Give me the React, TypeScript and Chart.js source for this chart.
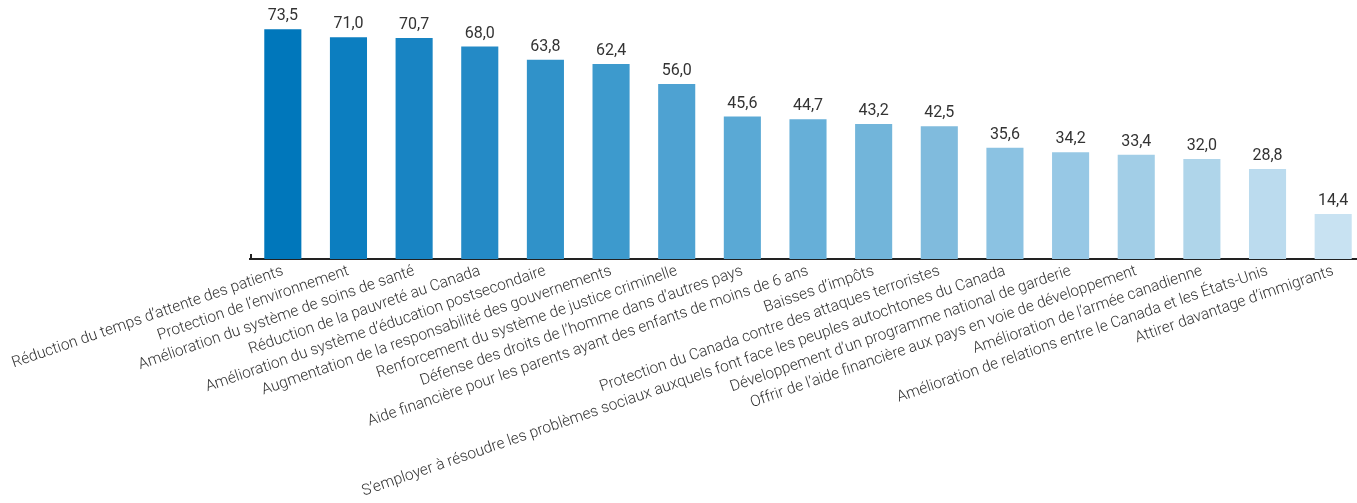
import React, { useEffect, useRef } from "react";
import { Chart, registerables } from "chart.js";

Chart.register(...registerables);

const categories: string[] = [
  "Réduction du temps d’attente des patients",
  "Protection de l’environnement",
  "Amélioration du système de soins de santé",
  "Réduction de la pauvreté au Canada",
  "Amélioration du système d’éducation postsecondaire",
  "Augmentation de la responsabilité des gouvernements",
  "Renforcement du système de justice criminelle",
  "Défense des droits de l’homme dans d’autres pays",
  "Aide financière pour les parents ayant des enfants de moins de 6 ans",
  "Baisses d’impôts",
  "Protection du Canada contre des attaques terroristes",
  "S’employer à résoudre les problèmes sociaux auxquels font face les peuples autochtones du Canada",
  "Développement d’un programme national de garderie",
  "Offrir de l’aide financière aux pays en voie de développement",
  "Amélioration de l’armée canadienne",
  "Amélioration de relations entre le Canada et les États-Unis",
  "Attirer davantage d’immigrants",
];

const values: number[] = [
  73.5, 71.0, 70.7, 68.0, 63.8, 62.4, 56.0, 45.6, 44.7, 43.2, 42.5, 35.6, 34.2,
  33.4, 32.0, 28.8, 14.4,
];

const barColors: string[] = [
  "#0077BB",
  "#0C7EC0",
  "#1884C3",
  "#248AC6",
  "#3092C9",
  "#3D9ACD",
  "#4EA2D2",
  "#5AA9D5",
  "#66AFD8",
  "#72B5DA",
  "#80BBDD",
  "#8BC2E2",
  "#97C8E5",
  "#A2CEE7",
  "#AFD5EA",
  "#BBDBEE",
  "#C8E2F2",
];

const fmt = (v: number) => v.toFixed(1).replace(".", ",");

const valueLabels = {
  id: "valueLabels",
  afterDatasetsDraw(chart: any) {
    const ctx = chart.ctx;
    const meta = chart.getDatasetMeta(0);
    ctx.save();
    ctx.font = "16px Roboto";
    ctx.fillStyle = "#333333";
    ctx.textAlign = "center";
    ctx.textBaseline = "bottom";
    meta.data.forEach((bar: any, i: number) => {
      ctx.fillText(fmt(values[i]), bar.x, bar.y - 5);
    });
    ctx.restore();
  },
};

const leftTick = {
  id: "leftTick",
  afterDraw(chart: any) {
    const { ctx, chartArea } = chart;
    ctx.save();
    ctx.strokeStyle = "#222222";
    ctx.lineWidth = 2;
    ctx.beginPath();
    ctx.moveTo(chartArea.left + 1, chartArea.bottom - 5);
    ctx.lineTo(chartArea.left + 1, chartArea.bottom + 1);
    ctx.stroke();
    ctx.restore();
  },
};

export default function App() {
  const ref = useRef<HTMLCanvasElement | null>(null);

  useEffect(() => {
    if (!ref.current) return;
    const chart = new Chart(ref.current, {
      type: "bar",
      data: {
        labels: categories,
        datasets: [
          {
            data: values,
            backgroundColor: barColors,
            borderWidth: 0,
            categoryPercentage: 1,
            barPercentage: 0.565,
          },
        ],
      },
      options: {
        responsive: false,
        animation: false,
        layout: { padding: { left: 250, right: 0, top: 9, bottom: 0 } },
        plugins: {
          legend: { display: false },
          tooltip: { enabled: false },
        },
        scales: {
          x: {
            grid: { display: false, drawTicks: false },
            border: { display: true, color: "#222222", width: 2 },
            ticks: {
              autoSkip: false,
              minRotation: 19,
              maxRotation: 19,
              padding: 3,
              color: "#333333",
              font: { family: "Roboto", size: 15.5, weight: "300" },
            },
            afterFit: (scale: any) => {
              scale.height = 244;
              scale.paddingLeft = 0;
              scale.paddingRight = 0;
            },
          },
          y: {
            display: false,
            min: 0,
            max: 80,
          },
        },
      },
      plugins: [valueLabels, leftTick],
    });
    return () => chart.destroy();
  }, []);

  return (
    <div
      style={{
        position: "fixed",
        left: 0,
        top: 0,
        width: 1357,
        height: 503,
        overflow: "hidden",
        background: "#ffffff",
      }}
    >
      <canvas ref={ref} width={1366} height={503} />
    </div>
  );
}
